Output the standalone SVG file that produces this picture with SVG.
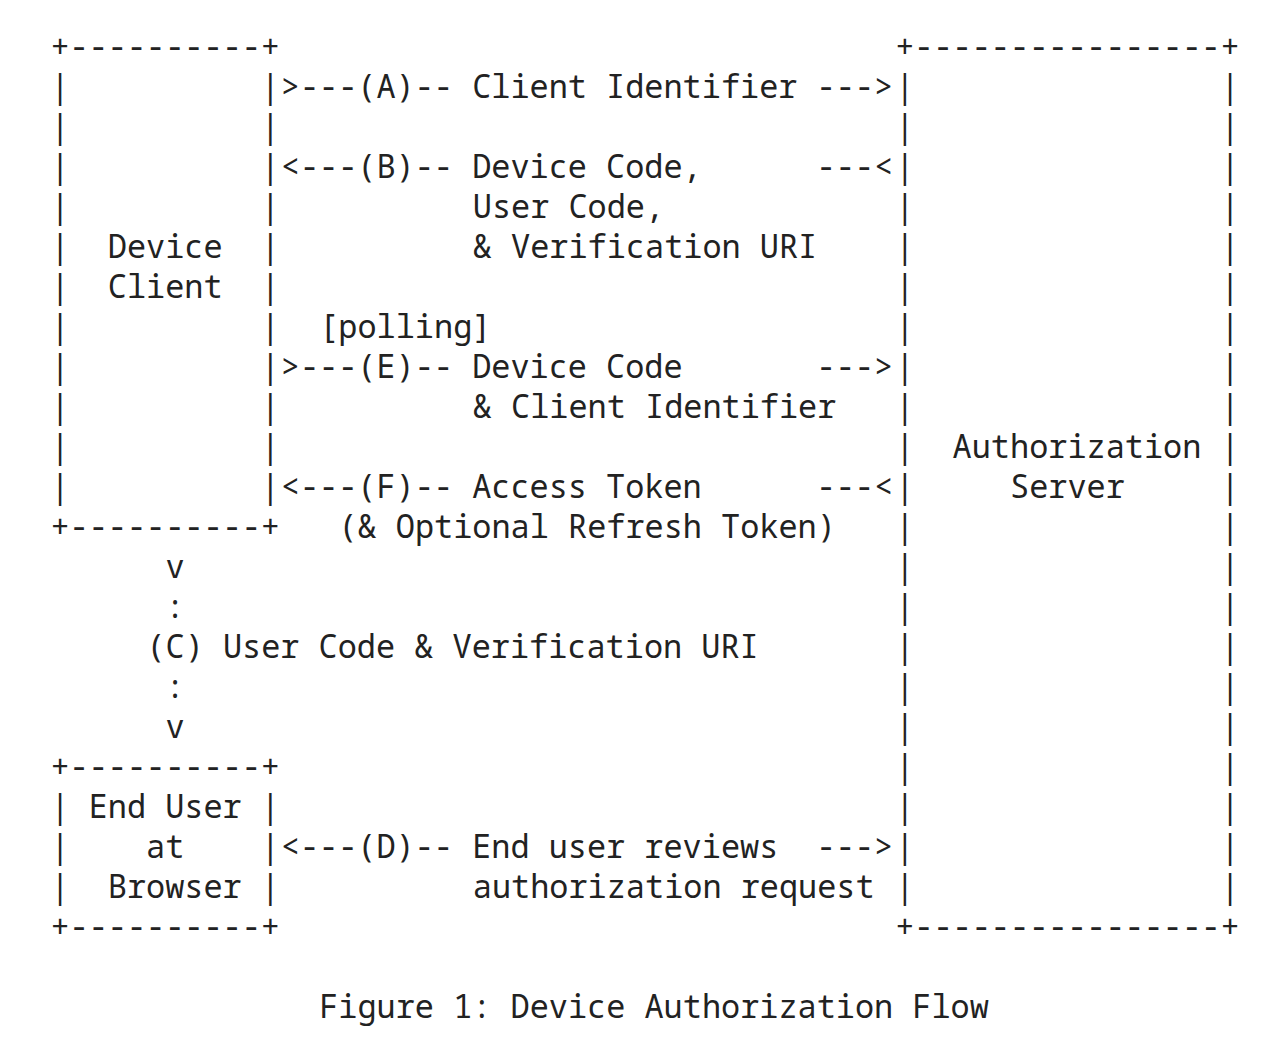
<svg xmlns="http://www.w3.org/2000/svg" width="1282" height="1054" viewBox="0 0 1282 1054">
  <style>
    text { font-family: "Noto Sans Mono", "DejaVu Sans Mono", "Liberation Mono", monospace; font-size: 31.9px; fill: #222; white-space: pre; }
  </style>
  <rect width="1282" height="1054" fill="#fff"/>
  <!-- character grid: column c at x = 50.4 + 19.2*c, row r baseline at y = 57.5 + 40*r -->

  <g id="device-client">
    <text x="50.4" y="57.5">+----------+</text>
    <text x="50.4" y="97.5">|          |</text>
    <text x="50.4" y="137.5">|          |</text>
    <text x="50.4" y="177.5">|          |</text>
    <text x="50.4" y="217.5">|          |</text>
    <text x="50.4" y="257.5">|  Device  |</text>
    <text x="50.4" y="297.5">|  Client  |</text>
    <text x="50.4" y="337.5">|          |</text>
    <text x="50.4" y="377.5">|          |</text>
    <text x="50.4" y="417.5">|          |</text>
    <text x="50.4" y="457.5">|          |</text>
    <text x="50.4" y="497.5">|          |</text>
    <text x="50.4" y="537.5">+----------+</text>
  </g>

  <g id="end-user-browser">
    <text x="50.4" y="777.5">+----------+</text>
    <text x="50.4" y="817.5">| End User |</text>
    <text x="50.4" y="857.5">|    at    |</text>
    <text x="50.4" y="897.5">|  Browser |</text>
    <text x="50.4" y="937.5">+----------+</text>
  </g>

  <g id="authorization-server">
    <text x="895.2" y="57.5">+----------------+</text>
    <text x="895.2" y="97.5">|                |</text>
    <text x="895.2" y="137.5">|                |</text>
    <text x="895.2" y="177.5">|                |</text>
    <text x="895.2" y="217.5">|                |</text>
    <text x="895.2" y="257.5">|                |</text>
    <text x="895.2" y="297.5">|                |</text>
    <text x="895.2" y="337.5">|                |</text>
    <text x="895.2" y="377.5">|                |</text>
    <text x="895.2" y="417.5">|                |</text>
    <text x="895.2" y="457.5">|  Authorization |</text>
    <text x="895.2" y="497.5">|     Server     |</text>
    <text x="895.2" y="537.5">|                |</text>
    <text x="895.2" y="577.5">|                |</text>
    <text x="895.2" y="617.5">|                |</text>
    <text x="895.2" y="657.5">|                |</text>
    <text x="895.2" y="697.5">|                |</text>
    <text x="895.2" y="737.5">|                |</text>
    <text x="895.2" y="777.5">|                |</text>
    <text x="895.2" y="817.5">|                |</text>
    <text x="895.2" y="857.5">|                |</text>
    <text x="895.2" y="897.5">|                |</text>
    <text x="895.2" y="937.5">+----------------+</text>
  </g>

  <g id="connectors">
    <!-- (A) client identifier -->
    <text x="280.8" y="97.5">&gt;---(A)-- Client Identifier ---&gt;</text>
    <!-- (B) device code, user code, verification URI -->
    <text x="280.8" y="177.5">&lt;---(B)-- Device Code,      ---&lt;</text>
    <text x="472.8" y="217.5">User Code,</text>
    <text x="472.8" y="257.5">&amp; Verification URI</text>
    <!-- (E) polling with device code -->
    <text x="319.2" y="337.5">[polling]</text>
    <text x="280.8" y="377.5">&gt;---(E)-- Device Code       ---&gt;</text>
    <text x="472.8" y="417.5">&amp; Client Identifier</text>
    <!-- (F) access token -->
    <text x="280.8" y="497.5">&lt;---(F)-- Access Token      ---&lt;</text>
    <text x="338.4" y="537.5">(&amp; Optional Refresh Token)</text>
    <!-- (C) device client to end user -->
    <text x="165.6" y="577.5">v</text>
    <text x="165.6" y="617.5">:</text>
    <text x="146.4" y="657.5">(C) User Code &amp; Verification URI</text>
    <text x="165.6" y="697.5">:</text>
    <text x="165.6" y="737.5">v</text>
    <!-- (D) end user review -->
    <text x="280.8" y="857.5">&lt;---(D)-- End user reviews  ---&gt;</text>
    <text x="472.8" y="897.5">authorization request</text>
  </g>

  <text id="caption" x="319.2" y="1017.5">Figure 1: Device Authorization Flow</text>
</svg>
